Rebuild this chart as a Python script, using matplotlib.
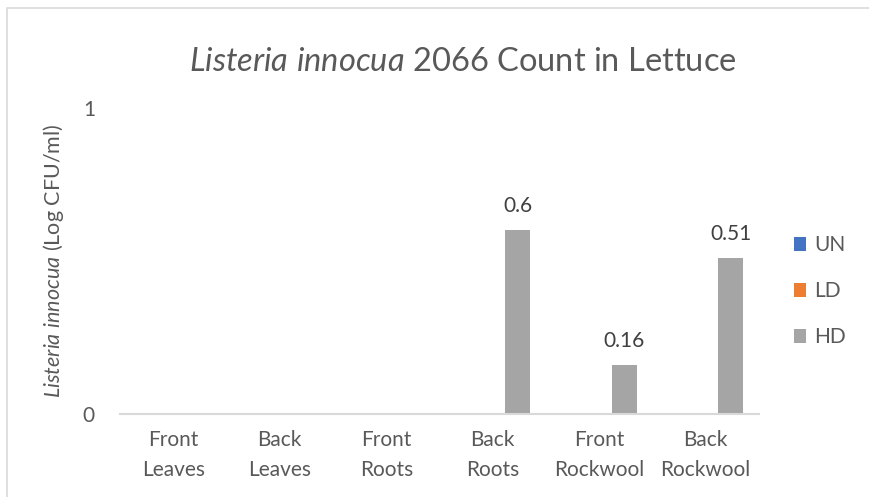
import matplotlib.pyplot as plt
import numpy as np
from matplotlib.patches import Rectangle

plt.rcParams['font.family'] = ['Lato', 'DejaVu Sans']
plt.rcParams['mathtext.fontset'] = 'custom'
plt.rcParams['mathtext.rm'] = 'Lato'
plt.rcParams['mathtext.it'] = 'Lato:italic'

categories = ["Front\nLeaves", "Back\nLeaves", "Front\nRoots", "Back\nRoots", "Front\nRockwool", "Back\nRockwool"]
un_values = [0, 0, 0, 0, 0, 0]
ld_values = [0, 0, 0, 0, 0, 0]
hd_values = [0, 0, 0, 0.6, 0.16, 0.51]
series_names = ["UN", "LD", "HD"]
series_colors = ["#4472c4", "#ed7d31", "#a5a5a5"]

text_color = "#595959"

fig = plt.figure(figsize=(8.7, 4.97), dpi=100)
ax = fig.add_axes([120 / 870, 1 - 413.5 / 497, 639 / 870, 305.5 / 497])

# outer chart border (only left/top visible in the crop)
fig.patches.append(Rectangle((7 / 870, -0.1), 1.2, 1 - 8 / 497 + 0.1, transform=fig.transFigure,
                             fill=False, edgecolor="#d9d9d9", lw=1.2))

x = np.arange(len(categories))
w = 0.235
for i, (vals, name, col) in enumerate(zip([un_values, ld_values, hd_values], series_names, series_colors)):
    bars = ax.bar(x + (i - 1) * w, vals, w, color=col, label=name)
    for b, v in zip(bars, vals):
        if v > 0:
            ax.text(b.get_x() + b.get_width() / 2, v + 0.058, f"{v:g}", ha="center", va="baseline",
                    fontsize=15, color="#404040")

ax.set_xlim(-0.5, len(categories) - 0.5)
ax.set_ylim(0, 1)
ax.set_yticks([0, 1])
ax.set_xticks(x)
ax.set_xticklabels(categories, fontsize=15, color=text_color, linespacing=1.6)
ax.tick_params(axis="y", labelsize=15, labelcolor=text_color, length=0, pad=18)
ax.tick_params(axis="x", length=0, pad=12)
for s in ["top", "right", "left"]:
    ax.spines[s].set_visible(False)
ax.spines["bottom"].set_color("#d9d9d9")
ax.spines["bottom"].set_linewidth(1.5)

ax.set_ylabel(r"$\mathit{Listeria\ innocua}$ (Log CFU/ml)", fontsize=15.5, color=text_color, labelpad=12)
fig.text(0.532, 0.875, r"$\mathit{Listeria\ innocua}$ 2066 Count in Lettuce", ha="center", va="center",
         fontsize=23.5, color=text_color)

leg = ax.legend(loc="center left", bbox_to_anchor=(1.025, 0.40), frameon=False, fontsize=15,
                labelspacing=1.25, handlelength=0.6, handleheight=0.6, handletextpad=0.4)
for t in leg.get_texts():
    t.set_color(text_color)

fig.savefig("out.png", dpi=100)
